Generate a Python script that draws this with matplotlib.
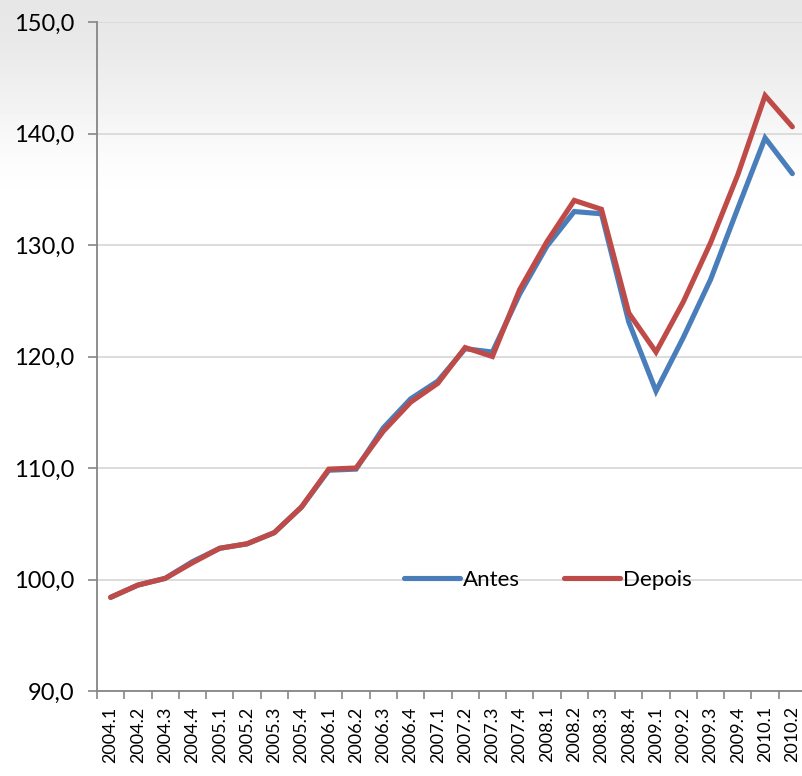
import numpy as np
import matplotlib
matplotlib.use("Agg")
import matplotlib.pyplot as plt
from matplotlib.ticker import FuncFormatter, FixedLocator

categories = ["2004.1", "2004.2", "2004.3", "2004.4", "2005.1", "2005.2", "2005.3", "2005.4",
              "2006.1", "2006.2", "2006.3", "2006.4", "2007.1", "2007.2", "2007.3", "2007.4",
              "2008.1", "2008.2", "2008.3", "2008.4", "2009.1", "2009.2", "2009.3", "2009.4",
              "2010.1", "2010.2"]
antes = [98.4, 99.5, 100.1, 101.6, 102.8, 103.2, 104.2, 106.5, 109.8, 109.9, 113.6, 116.2,
         117.8, 120.7, 120.4, 125.6, 129.9, 133.0, 132.8, 123.1, 116.9, 121.7, 126.9, 133.3,
         139.6, 136.4]
depois = [98.4, 99.5, 100.1, 101.5, 102.8, 103.2, 104.2, 106.5, 109.9, 110.0, 113.3, 115.9,
          117.6, 120.8, 120.0, 126.0, 130.3, 134.0, 133.2, 123.9, 120.4, 124.9, 130.2, 136.3,
          143.4, 140.6]
yticks = [90, 100, 110, 120, 130, 140, 150]

plt.rcParams['font.family'] = ['Lato', 'DejaVu Sans']

fig = plt.figure(figsize=(8.02, 7.76), dpi=100)

# background gradient
bg = fig.add_axes([0, 0, 1, 1], zorder=-10)
h = 776
vals = np.ones(h)
top = 0.905
span = 215.0
for i in range(h):
    if i < span:
        t = i / span
        vals[i] = top + (1 - top) * (0.5 - 0.5 * np.cos(np.pi * t))
grad = np.tile(vals[:, None], (1, 10))
bg.imshow(grad, cmap='gray', vmin=0, vmax=1, aspect='auto', extent=[0, 1, 0, 1], origin='upper')
bg.axis('off')

ax = fig.add_axes([97 / 802, 1 - 691 / 776, (806 - 97) / 802, (691 - 22) / 776])
ax.set_facecolor('none')

x = np.arange(len(categories))
ax.plot(x, antes, color='#4a7ebb', lw=3.7, solid_capstyle='round', solid_joinstyle='miter', label='Antes', zorder=3)
ax.plot(x, depois, color='#be4b48', lw=3.7, solid_capstyle='round', solid_joinstyle='miter', label='Depois', zorder=4)

ax.set_xlim(-0.5, len(categories) - 0.5)
ax.set_ylim(90, 150)
ax.set_yticks(yticks)
ax.yaxis.set_major_formatter(FuncFormatter(lambda v, p: f"{v:.1f}".replace('.', ',')))
ax.grid(axis='y', color='#d9d9d9', lw=1.3, zorder=0)
ax.set_axisbelow(True)

ax.set_xticks(x)
ax.set_xticklabels(categories, rotation=90, fontsize=13)
ax.tick_params(axis='x', which='major', length=0, pad=11)
ax.xaxis.set_minor_locator(FixedLocator(np.arange(-0.5, len(categories), 1.0)))
ax.tick_params(axis='x', which='minor', length=6, width=1.2, color='#868686', direction='out')
ax.tick_params(axis='y', length=6.5, width=1.2, color='#868686', labelsize=17, pad=10)

for s in ['top', 'right']:
    ax.spines[s].set_visible(False)
for s in ['left', 'bottom']:
    ax.spines[s].set_color('#868686')
    ax.spines[s].set_linewidth(1.3)

leg = ax.legend(loc='center', bbox_to_anchor=((548 - 97) / 709, (691 - 580) / 669),
                ncol=2, frameon=False, fontsize=16, handlelength=2.5, columnspacing=2.0,
                handletextpad=0.15)

fig.savefig('out.png', dpi=100)
